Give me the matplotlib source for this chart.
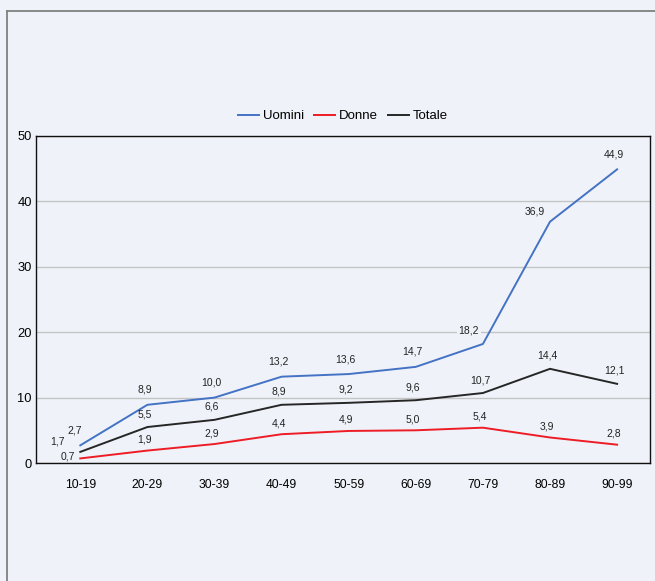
import matplotlib.pyplot as plt
from matplotlib.lines import Line2D

plt.rcParams['font.family'] = ['Liberation Sans', 'DejaVu Sans']

fasce = ['10-19', '20-29', '30-39', '40-49', '50-59', '60-69', '70-79', '80-89', '90-99']
uomini = [2.7, 8.9, 10.0, 13.2, 13.6, 14.7, 18.2, 36.9, 44.9]
donne = [0.7, 1.9, 2.9, 4.4, 4.9, 5.0, 5.4, 3.9, 2.8]
totale = [1.7, 5.5, 6.6, 8.9, 9.2, 9.6, 10.7, 14.4, 12.1]

bg = '#eff3f9'
col_u = '#4472c4'
col_d = '#ee1c25'
col_t = '#262626'

fig = plt.figure(figsize=(6.55, 5.81), dpi=100, facecolor=bg)
ax = fig.add_axes([36/655, 1-463/581, 614/655, 327/581], facecolor=bg)

# cornice grigia del riquadro (lato sinistro e superiore)
fig.add_artist(Line2D([7/655, 7/655], [0, 1-11/581], transform=fig.transFigure,
                      color='#808080', lw=1.3))
fig.add_artist(Line2D([7/655, 1], [1-11/581, 1-11/581], transform=fig.transFigure,
                      color='#808080', lw=1.3))

x = range(len(fasce))
ax.plot(x, uomini, color=col_u, lw=1.4, label='Uomini')
ax.plot(x, donne, color=col_d, lw=1.4, label='Donne')
ax.plot(x, totale, color=col_t, lw=1.4, label='Totale')

def etichetta(v, i, dx, dy, box=False):
    kw = {}
    if box:
        kw['bbox'] = dict(facecolor=bg, edgecolor='none', pad=1)
    ax.annotate(f'{v:.1f}'.replace('.', ','), (i, v), xytext=(dx, dy),
                textcoords='offset pixels', ha='center', va='center',
                fontsize=7.5, color='#222222', **kw)

for i, v in enumerate(uomini):
    if i == 0:
        etichetta(v, i, -6, 15)
    elif i == 6:
        etichetta(v, i, -14, 13, box=True)
    elif i == 7:
        etichetta(v, i, -15, 10)
    else:
        etichetta(v, i, -3, 15)

for i, v in enumerate(totale):
    if i == 0:
        etichetta(v, i, -23, 10)
    else:
        etichetta(v, i, -3, 13)

for i, v in enumerate(donne):
    if i == 0:
        etichetta(v, i, -12, 2)
    else:
        etichetta(v, i, -3, 11)

ax.set_xlim(-0.66, 8.49)
ax.set_ylim(0, 50)
ax.set_yticks([0, 10, 20, 30, 40, 50])
ax.set_xticks(list(x))
ax.set_xticklabels(fasce)
ax.tick_params(axis='x', length=0, pad=11.5, labelsize=8.7)
ax.tick_params(axis='y', length=0, pad=3, labelsize=9.3)
ax.grid(axis='y', color='#c4c4c4', lw=1)
ax.set_axisbelow(True)
for s in ax.spines.values():
    s.set_color('#111111')
    s.set_linewidth(1)

ax.legend(loc='center', bbox_to_anchor=(0.5, 1.061), ncol=3, frameon=False,
          fontsize=9.5, handlelength=1.6, handletextpad=0.25, columnspacing=0.8)

fig.savefig('out.png', dpi=100, facecolor=bg)
